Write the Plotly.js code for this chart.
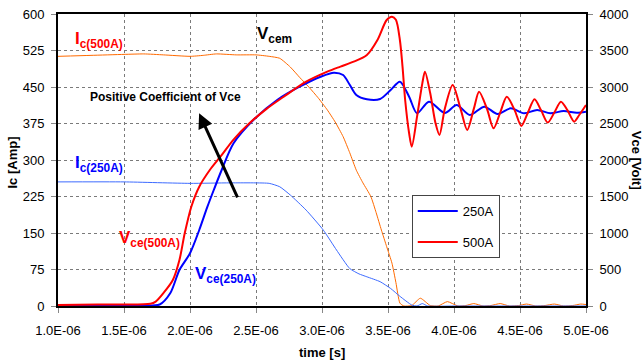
<!DOCTYPE html>
<html>
<head>
<meta charset="utf-8">
<script src="https://cdn.plot.ly/plotly-3.0.1.min.js"></script>
<style>html,body{margin:0;padding:0;background:#fff;}#chart{width:643px;height:362px;}</style>
</head>
<body>
<div id="chart"></div>
<script>
// time in microseconds
const tIc500 = [1.0,1.25,1.5,1.65,1.8,2.0,2.1,2.2,2.35,2.5,2.6,2.68,2.76,2.83,2.9,2.97,3.04,3.1,3.16,3.21,3.26,3.31,3.37,3.41,3.45,3.49,3.53,3.56,3.59,3.62,3.68,3.745,3.82,3.88,3.95,4.03,4.09,4.15,4.22,4.28,4.35,4.42,4.49,4.55,4.62,4.69,4.76,4.83,4.9,4.96,5.0];
const ic500  = [513,515,517,518,516,513,515,518,516,516,513,509,491,470,450,428,403,378,348,315,279,253,225,192,156,122,88,48,6,0,1,16,1,0,9,0,1,5,0,1,5,0,1,4,0,1,4,0,1,4,3];

const tIc250 = [1.0,1.5,2.0,2.3,2.6,2.68,2.76,2.88,3.01,3.11,3.21,3.28,3.34,3.44,3.52,3.59,3.68,3.72,3.76,3.8,4.0,4.5,5.0];
const ic250  = [255,255,252,253,252,245,228,197,156,115,77,66,60,50,36,20,2,0,5,0,0,0,0];

const tV500 = [1.0,1.3,1.5,1.7,1.74,1.8,1.87,1.92,1.96,2.01,2.07,2.15,2.23,2.33,2.45,2.58,2.71,2.88,3.04,3.14,3.24,3.34,3.42,3.49,3.53,3.56,3.59,3.61,3.63,3.66,3.68,3.72,3.76,3.78,3.82,3.86,3.89,3.93,3.99,4.05,4.10,4.15,4.19,4.25,4.30,4.35,4.40,4.46,4.51,4.56,4.61,4.66,4.71,4.76,4.81,4.86,4.91,4.95,5.0];
const v500  = [15,20,20,30,60,180,356,630,996,1360,1634,1863,2045,2280,2503,2700,2867,3073,3210,3280,3347,3439,3644,3918,3964,3920,3644,3279,2822,2366,2183,2594,3050,3210,2914,2503,2343,2700,3028,2700,2411,2700,2936,2700,2434,2650,2867,2680,2466,2650,2832,2680,2512,2650,2799,2680,2525,2620,2754];

const tV250 = [1.0,1.5,1.77,1.85,1.92,2.0,2.07,2.13,2.18,2.24,2.33,2.48,2.66,2.83,2.99,3.09,3.16,3.21,3.26,3.34,3.44,3.52,3.59,3.66,3.72,3.81,3.93,4.02,4.12,4.23,4.33,4.43,4.53,4.63,4.73,4.83,4.93,5.0];
const v250  = [10,15,20,174,493,722,1041,1350,1589,1863,2229,2548,2822,3004,3141,3196,3164,3030,2890,2832,2836,2959,3073,2867,2640,2799,2644,2754,2617,2731,2630,2708,2640,2685,2640,2671,2648,2662];

const xTickVals = [1.0,1.5,2.0,2.5,3.0,3.5,4.0,4.5,5.0];
const xTickText = ['1.0E-06','1.5E-06','2.0E-06','2.5E-06','3.0E-06','3.5E-06','4.0E-06','4.5E-06','5.0E-06'];
const yTickVals = [0,75,150,225,300,375,450,525,600];
const y2TickVals = [0,500,1000,1500,2000,2500,3000,3500,4000];

const F = 'Liberation Sans, Arial, sans-serif';

const traces = [
  {x: tIc500, y: ic500, type:'scatter', mode:'lines', line:{color:'#ff6a00', width:1, shape:'spline', smoothing:0.5}, showlegend:false, hoverinfo:'skip'},
  {x: tIc250, y: ic250, type:'scatter', mode:'lines', line:{color:'#3d6bff', width:1, shape:'spline', smoothing:0.5}, showlegend:false, hoverinfo:'skip'},
  {x: tV250, y: v250, yaxis:'y2', type:'scatter', mode:'lines', name:'250A', legendgroup:'a', line:{color:'#0000ff', width:2, shape:'spline', smoothing:0.8}},
  {x: tV500, y: v500, yaxis:'y2', type:'scatter', mode:'lines', name:'500A', legendgroup:'b', line:{color:'#ff0000', width:2, shape:'spline', smoothing:0.8}}
];

const gridStyle = {showgrid:true, gridcolor:'#7a7a7a', griddash:'dot', gridwidth:1};

const layout = {
  width:643, height:362,
  margin:{l:58, r:57, t:14, b:56},
  paper_bgcolor:'#fff', plot_bgcolor:'#fff',
  font:{family:F, size:13, color:'#000'},
  showlegend:true,
  legend:{x:0.670, y:0.380, xanchor:'left', yanchor:'top', bgcolor:'#fff', bordercolor:'#444', borderwidth:1,
          font:{family:F, size:13, color:'#000'}, traceorder:'grouped', tracegroupgap:11, itemwidth:40},
  xaxis:Object.assign({range:[1,5], tickvals:xTickVals, ticktext:xTickText, showline:true, linecolor:'#000', linewidth:2, mirror:true,
          ticks:'outside', ticklen:5, tickcolor:'#888', zeroline:false, ticklabelstandoff:6}, gridStyle),
  yaxis:Object.assign({range:[0,600], tickvals:yTickVals, showline:true, linecolor:'#000', linewidth:2,
          ticks:'outside', ticklen:5, tickcolor:'#888', zeroline:false, ticklabelstandoff:4}, gridStyle),
  yaxis2:{range:[0,4000], tickvals:y2TickVals, overlaying:'y', side:'right', showline:true, linecolor:'#000', linewidth:2,
          showgrid:false, zeroline:false, ticks:'outside', ticklen:5, tickcolor:'#888', ticklabelstandoff:4},
  annotations:[
    {xref:'paper', yref:'paper', x:-0.086, y:0.49, xanchor:'center', yanchor:'middle', text:'<b>Ic [Amp]</b>', textangle:-90, showarrow:false, font:{size:13}},
    {xref:'paper', yref:'paper', x:1.097, y:0.5, xanchor:'center', yanchor:'middle', text:'<b>Vce [Volt]</b>', textangle:90, showarrow:false, font:{size:13}},
    {xref:'paper', yref:'paper', x:0.5, y:-0.158, xanchor:'center', yanchor:'middle', text:'<b>time [s]</b>', showarrow:false, font:{size:13}},
    {xref:'x', yref:'y', x:1.11, y:546, xanchor:'left', yanchor:'middle', text:'<b>I<sub>c(500A)</sub></b>', showarrow:false, font:{size:17, color:'#ff0000'}},
    {xref:'x', yref:'y', x:1.11, y:292, xanchor:'left', yanchor:'middle', text:'<b>I<sub>c(250A)</sub></b>', showarrow:false, font:{size:17, color:'#0000ff'}},
    {xref:'x', yref:'y', x:2.49, y:557, xanchor:'left', yanchor:'middle', text:'<b>V<sub>cem</sub></b>', showarrow:false, font:{size:17, color:'#000'}},
    {xref:'x', yref:'y', x:1.45, y:138, xanchor:'left', yanchor:'middle', text:'<b>V<sub>ce(500A)</sub></b>', showarrow:false, font:{size:17, color:'#ff0000'}},
    {xref:'x', yref:'y', x:2.02, y:64, xanchor:'left', yanchor:'middle', text:'<b>V<sub>ce(250A)</sub></b>', showarrow:false, font:{size:17, color:'#0000ff'}},
    {xref:'x', yref:'y', x:1.23, y:429, xanchor:'left', yanchor:'middle', text:'<b>Positive Coefficient of Vce</b>', showarrow:false, font:{size:12, color:'#000'}},
    {xref:'x', yref:'y', x:2.069, y:396, axref:'x', ayref:'y', ax:2.365, ay:220, text:'', showarrow:true, arrowhead:2, arrowsize:1, arrowwidth:3, arrowcolor:'#000'}
  ]
};

Plotly.newPlot('chart', traces, layout, {displayModeBar:false, staticPlot:true});
</script>
</body>
</html>
